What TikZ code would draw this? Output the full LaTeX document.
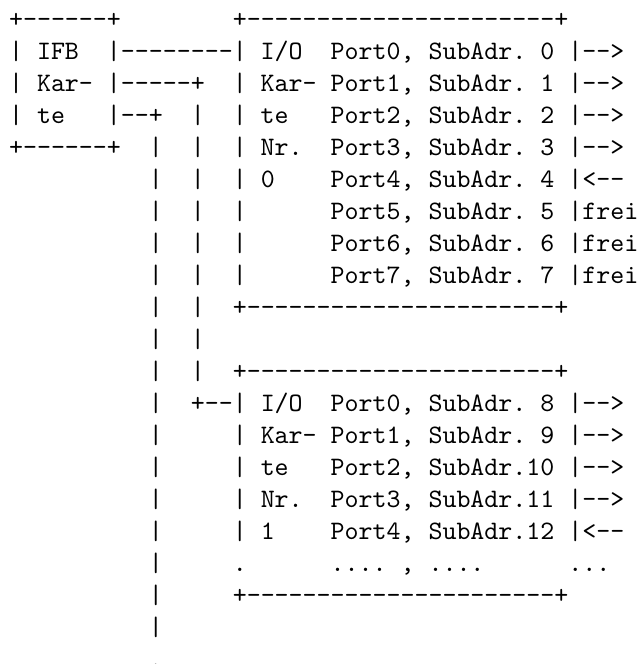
\documentclass[tikz,border=0pt]{standalone}
\newcommand\dsh[1]{\foreach\dI in {1,...,#1}{-\kern0pt}}
\tikzset{ascii/.style={anchor=base west, inner sep=0pt, outer sep=0pt, text=black,
  font=\ttfamily\fontsize{10}{12}\selectfont\frenchspacing}}
\newcommand\asciirow[4]{\node[ascii] (#1) at ({3.4pt+#3*5.25pt},{-10.5pt-(#2-1)*12pt}) {#4};}
\begin{document}
\begin{tikzpicture}
\fill[white] (0,0) rectangle (239.96pt,-249.3pt);
\useasboundingbox (0,0) rectangle (239.96pt,-249.3pt);
\asciirow{r1a}{1}{0}{+\dsh{6}+}
\asciirow{r1b}{1}{16}{+\dsh{22}+}
\asciirow{r2}{2}{0}{|~IFB~~|\dsh{8}|~I/O~~Port0,~SubAdr.~0~|\dsh{2}>}
\asciirow{r3}{3}{0}{|~Kar-~|\dsh{5}+~~|~Kar-~Port1,~SubAdr.~1~|\dsh{2}>}
\asciirow{r4}{4}{0}{|~te~~~|\dsh{2}+~~|~~|~te~~~Port2,~SubAdr.~2~|\dsh{2}>}
\asciirow{r5}{5}{0}{+\dsh{6}+~~|~~|~~|~Nr.~~Port3,~SubAdr.~3~|\dsh{2}>}
\asciirow{r6}{6}{10}{|~~|~~|~0~~~~Port4,~SubAdr.~4~|<\dsh{2}}
\asciirow{r7}{7}{10}{|~~|~~|~~~~~~Port5,~SubAdr.~5~|frei}
\asciirow{r8}{8}{10}{|~~|~~|~~~~~~Port6,~SubAdr.~6~|frei}
\asciirow{r9}{9}{10}{|~~|~~|~~~~~~Port7,~SubAdr.~7~|frei}
\asciirow{r10}{10}{10}{|~~|~~+\dsh{22}+}
\asciirow{r11}{11}{10}{|~~|}
\asciirow{r12}{12}{10}{|~~|~~+\dsh{22}+}
\asciirow{r13}{13}{10}{|~~+\dsh{2}|~I/O~~Port0,~SubAdr.~8~|\dsh{2}>}
\asciirow{r14}{14}{10}{|~~~~~|~Kar-~Port1,~SubAdr.~9~|\dsh{2}>}
\asciirow{r15}{15}{10}{|~~~~~|~te~~~Port2,~SubAdr.10~|\dsh{2}>}
\asciirow{r16}{16}{10}{|~~~~~|~Nr.~~Port3,~SubAdr.11~|\dsh{2}>}
\asciirow{r17}{17}{10}{|~~~~~|~1~~~~Port4,~SubAdr.12~|<\dsh{2}}
\asciirow{r18}{18}{10}{|~~~~~.~~~~~~....~,~....~~~~~~...}
\asciirow{r19}{19}{10}{|~~~~~+\dsh{22}+}
\asciirow{r20}{20}{10}{|}
\asciirow{r21}{21}{10}{.}
\end{tikzpicture}
\end{document}
